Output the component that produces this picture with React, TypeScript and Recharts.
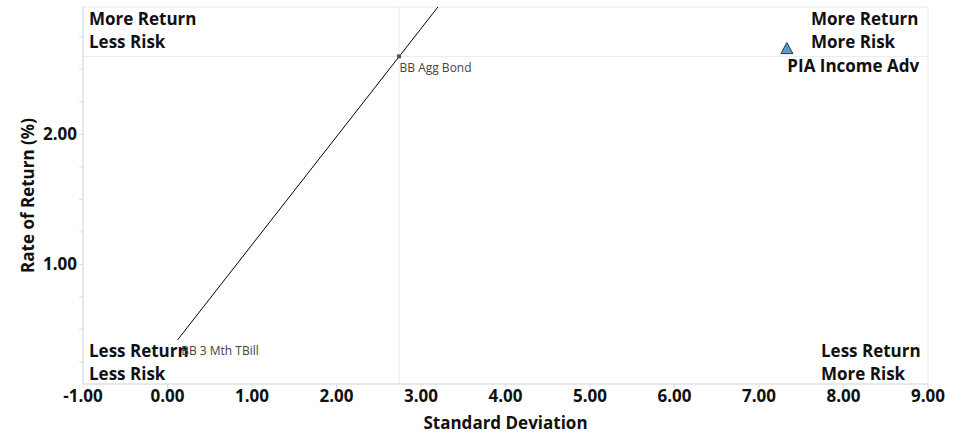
import { ScatterChart, Scatter, XAxis, YAxis, ReferenceLine, ReferenceArea, Label, LabelList } from "recharts"

const xTicks = [-1, 0, 1, 2, 3, 4, 5, 6, 7, 8, 9]
const yTicks = [0.25, 0.5, 0.75, 1, 1.25, 1.5, 1.75, 2, 2.25, 2.5, 2.75]
const yDomain = [0.08, 2.98]

const funds = [{ name: "PIA Income Adv", risk: 7.33, ret: 2.66 }]
const aggBond = [{ name: "BB Agg Bond", risk: 2.74, ret: 2.6 }]
const tBill = [{ name: "BB 3 Mth TBill", risk: 0.12, ret: 0.42 }]
// capital market line: from the t-bill through the agg bond, up to the top of the plot
const marketLine = [{ risk: 0.12, ret: 0.42 }, { risk: 3.2, ret: 2.98 }]

const FONT = "'Open Sans', sans-serif"

const Triangle = (props: any) => {
    const { cx, cy } = props
    return <polygon points={`${cx},${cy - 6} ${cx - 6},${cy + 5} ${cx + 6},${cy + 5}`} fill="#5b9bc4" stroke="#1f3b4d" strokeWidth={1} />
}

const SmallMark = (props: any) => {
    const { cx, cy } = props
    return <rect x={cx - 2} y={cy - 2} width={4} height={4} fill="#555" />
}

// quadrant captions, left aligned; "dx" is measured from the left or right edge of the plot
const quadLabel = (lines: string[], corner: "tl" | "tr" | "bl" | "br", dx: number) => (props: any) => {
    const { x, y, width, height } = props.viewBox
    const right = corner === "tr" || corner === "br"
    const top = corner === "tl" || corner === "tr"
    const tx = right ? x + width - dx : x + dx
    const ty = top ? y + 18 : y + height - 27
    return (
        <text x={tx} y={ty} fontFamily={FONT} fontWeight="bold" fontSize={17} fill="#111">
            {lines.map((l, i) => (
                <tspan key={i} x={tx} dy={i === 0 ? 0 : 23}>{l}</tspan>
            ))}
        </text>
    )
}

const fmt = (v: number) => (Number.isInteger(v) ? v.toFixed(2) : "")

export default function App() {
    return (
        <div style={{ position: "absolute", left: 0, top: 0, background: "#fff" }}>
            <ScatterChart width={967} height={435} margin={{ top: 7, right: 39, bottom: 0, left: 0 }}>
                <XAxis
                    type="number"
                    dataKey="risk"
                    domain={[-1, 9]}
                    ticks={xTicks}
                    tickFormatter={(v) => v.toFixed(2)}
                    height={51}
                    stroke="#ddd"
                    tickSize={4}
                    tick={{ fill: "#111", fontSize: 17, fontWeight: "bold", fontFamily: FONT }}
                >
                    <Label value="Standard Deviation" position="insideBottom" offset={6} style={{ fill: "#111", fontSize: 17, fontWeight: "bold", fontFamily: FONT }} />
                </XAxis>
                <YAxis
                    type="number"
                    dataKey="ret"
                    domain={yDomain}
                    ticks={yTicks}
                    tickFormatter={fmt}
                    width={83}
                    stroke="#ddd"
                    tickSize={4}
                    tick={{ fill: "#111", fontSize: 17, fontWeight: "bold", fontFamily: FONT }}
                >
                    <Label value="Rate of Return (%)" angle={-90} position="insideLeft" offset={28} style={{ textAnchor: "middle", fill: "#111", fontSize: 17, fontWeight: "bold", fontFamily: FONT }} />
                </YAxis>
                <ReferenceArea x1={-1} x2={9} y1={yDomain[0]} y2={yDomain[1]} fill="none" stroke="#e8e8e8" ifOverflow="extendDomain">
                    <Label content={quadLabel(["More Return", "Less Risk"], "tl", 6)} />
                    <Label content={quadLabel(["More Return", "More Risk"], "tr", 117)} />
                    <Label content={quadLabel(["Less Return", "Less Risk"], "bl", 6)} />
                    <Label content={quadLabel(["Less Return", "More Risk"], "br", 107)} />
                </ReferenceArea>
                <ReferenceLine x={aggBond[0].risk} stroke="#ebebeb" />
                <ReferenceLine y={aggBond[0].ret} stroke="#ebebeb" />
                <Scatter data={marketLine} line={{ stroke: "#000", strokeWidth: 1 }} shape={() => null} isAnimationActive={false} />
                <Scatter data={aggBond} shape={SmallMark} isAnimationActive={false}>
                    <LabelList dataKey="name" content={(p: any) => (
                        <text x={p.x + 5} y={p.y + 20} fontFamily={FONT} fontSize={12} fill="#444">{p.value}</text>
                    )} />
                </Scatter>
                <Scatter data={tBill} shape={() => null} isAnimationActive={false}>
                    <LabelList dataKey="name" content={(p: any) => (
                        <text x={p.x + 8} y={p.y + 20} fontFamily={FONT} fontSize={12} fill="#444">{p.value}</text>
                    )} />
                </Scatter>
                <Scatter data={funds} shape={Triangle} isAnimationActive={false}>
                    <LabelList dataKey="name" content={(p: any) => (
                        <text x={p.x + 5} y={p.y + 28} fontFamily={FONT} fontSize={17} fontWeight="bold" fill="#111">{p.value}</text>
                    )} />
                </Scatter>
            </ScatterChart>
        </div>
    )
}
